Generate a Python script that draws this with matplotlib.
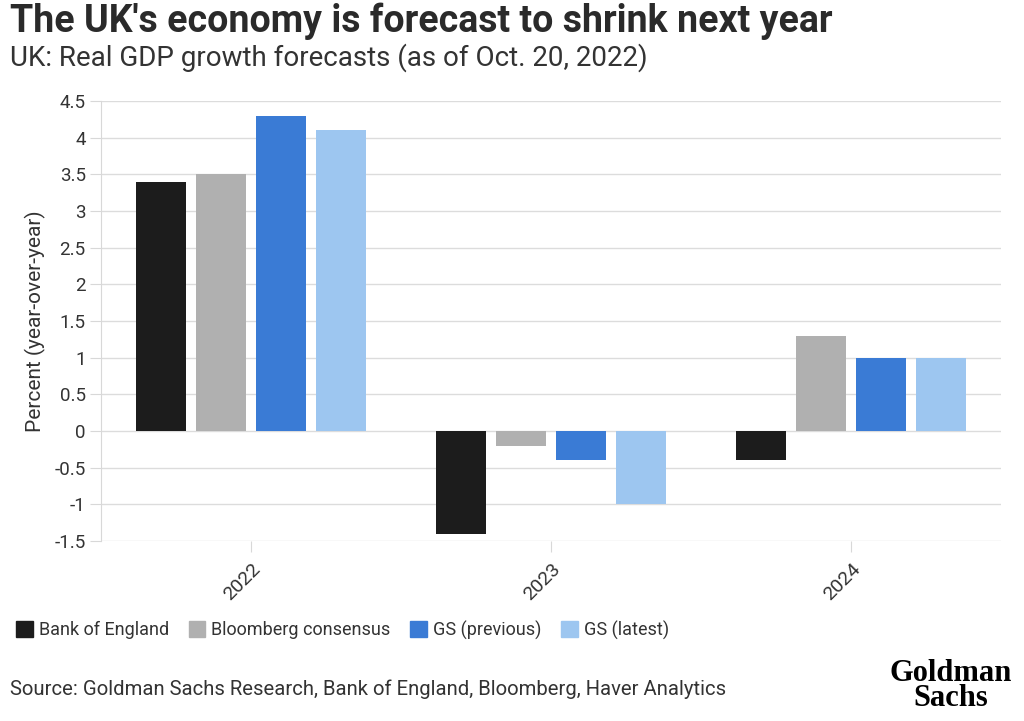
import numpy as np
import matplotlib.pyplot as plt
from matplotlib.patches import Patch

# данные
years = ["2022", "2023", "2024"]
series_names = ["Bank of England", "Bloomberg consensus", "GS (previous)", "GS (latest)"]
boe = [3.4, -1.4, -0.4]
bloomberg = [3.5, -0.2, 1.3]
gs_prev = [4.3, -0.4, 1.0]
gs_latest = [4.1, -1.0, 1.0]
colors = ["#1c1c1c", "#b0b0b0", "#3a7bd5", "#9dc6f0"]
yticks = [-1.5, -1, -0.5, 0, 0.5, 1, 1.5, 2, 2.5, 3, 3.5, 4, 4.5]

plt.rcParams["font.family"] = ["Roboto", "DejaVu Sans"]

fig = plt.figure(figsize=(10.24, 7.21), dpi=100)
ax = fig.add_axes([101 / 1024, 180 / 721, 900 / 1024, 440 / 721])

x = np.arange(len(years))
width = 50 / 300
offsets = [-0.3, -0.1, 0.1, 0.3]
for vals, off, col, name in zip([boe, bloomberg, gs_prev, gs_latest], offsets, colors, series_names):
    ax.bar(x + off, vals, width, color=col, label=name, zorder=3)

ax.set_xlim(-0.5, 2.5)
ax.set_ylim(-1.5, 4.5)
ax.set_yticks(yticks)
ax.set_yticklabels([("%g" % v) for v in yticks], fontsize=13.5, color="#333333")
ax.set_xticks(x)
ax.set_xticklabels(years, rotation=45, ha="right", rotation_mode="anchor",
                   fontsize=14, color="#333333")
ax.tick_params(axis="y", length=8, color="#d8d8d8", pad=3)
ax.tick_params(axis="x", length=8, color="#d8d8d8", pad=6)
ax.grid(axis="y", color="#dcdcdc", linewidth=1, zorder=0)
for s in ["top", "right", "bottom"]:
    ax.spines[s].set_visible(False)
ax.spines["left"].set_color("#d8d8d8")
ax.set_ylabel("Percent (year-over-year)", fontsize=15, color="#333333", labelpad=6)

# заголовки
fig.text(10 / 1024, 1 - 21 / 721, "The UK's economy is forecast to shrink next year",
         fontsize=27, fontweight="bold", color="#2a2a2a", va="center")
fig.text(10 / 1024, 1 - 58 / 721, "UK: Real GDP growth forecasts (as of Oct. 20, 2022)",
         fontsize=20, color="#333333", va="center")

# легенда
handles = [Patch(facecolor=c, edgecolor=c, label=n) for c, n in zip(colors, series_names)]
fig.legend(handles=handles, loc="center left", bbox_to_anchor=(0, 1 - 630 / 721), ncol=4,
           frameon=False, fontsize=13, handlelength=0.9, handleheight=1.0,
           handletextpad=0.35, columnspacing=1.1, labelcolor="#333333")

fig.text(10 / 1024, 1 - 689 / 721,
         "Source: Goldman Sachs Research, Bank of England, Bloomberg, Haver Analytics",
         fontsize=14.6, color="#333333", va="center")

fig.text(951 / 1024, 1 - 686 / 721, "Goldman\nSachs", fontsize=22, fontweight="bold",
         family="Liberation Serif", color="black",
         ha="center", va="center", linespacing=0.8)

fig.savefig("out.png", dpi=100)
